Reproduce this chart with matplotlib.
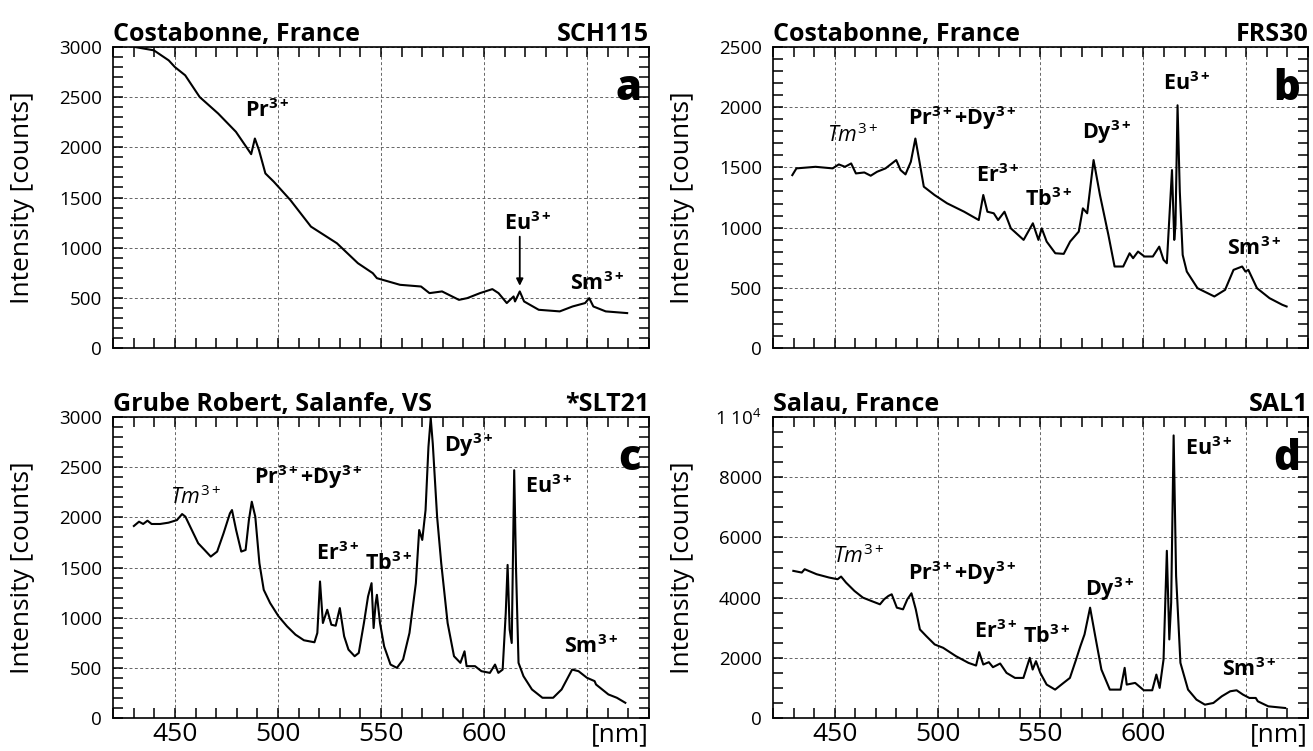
import matplotlib
matplotlib.use("Agg")
import matplotlib.pyplot as plt
import matplotlib.ticker as ticker

plt.rcParams["font.family"] = ["Open Sans", "DejaVu Sans"]
plt.rcParams["mathtext.fontset"] = "custom"
plt.rcParams["mathtext.rm"] = "Open Sans"
plt.rcParams["mathtext.bf"] = "Open Sans:bold"
plt.rcParams["mathtext.it"] = "Open Sans:italic"

# spectra (wavelength nm, intensity counts)
wl_a = [430.6, 439.8, 447, 450, 455, 462, 471, 479.6, 485.7, 487, 488.8, 490.8,
        493.9, 498, 506, 516, 528.6, 538.8, 546, 548, 559.2, 569.4, 573.5, 579.6,
        587.8, 591.8, 598, 604, 607, 611, 614.3, 615, 617.3, 619.4, 626.5, 636.7,
        642.9, 649, 651, 653, 659, 669.4]
int_a = [3000, 2967, 2867, 2800, 2718, 2502, 2337, 2155, 1972, 1932, 2088, 1972,
         1740, 1657, 1475, 1210, 1044, 845, 746, 696, 630, 613, 547, 564,
         480, 497, 547, 587, 547, 448, 514, 464, 564, 464, 381, 365,
         414, 448, 497, 414, 365, 348]

wl_b = [429.4, 431.4, 440.7, 449, 452, 455, 458, 460.3, 464.4, 467.5, 470.6, 474.7,
        479.9, 482, 484.4, 487, 489.2, 491.2, 493.3, 498.5, 504.6, 512.9, 520, 522.2,
        524.2, 527.3, 529.4, 532.5, 535.6, 541.8, 546.3, 549, 550.6, 553, 557.2, 561.3,
        564.4, 568.6, 570.6, 572.7, 575.8, 578.9, 583, 586, 590.2, 593.3, 595, 597.4,
        600.5, 604.6, 607.7, 609.8, 611.4, 613.9, 615, 615.6, 616.6, 617.7, 619.1, 621.1,
        626.3, 634.5, 639.7, 643.8, 648, 649.6, 651, 655.2, 661.3, 667.5, 669.6]
int_b = [1436, 1492, 1505, 1492, 1525, 1505, 1533, 1450, 1458, 1431, 1464, 1492,
         1561, 1478, 1442, 1547, 1740, 1547, 1340, 1271, 1202, 1132, 1063, 1271,
         1132, 1119, 1063, 1132, 994, 898, 1036, 898, 994, 884, 787, 782,
         884, 967, 1160, 1119, 1561, 1271, 939, 677, 677, 787, 746, 801,
         760, 760, 842, 732, 704, 1478, 898, 1022, 2016, 1298, 773, 635,
         497, 428, 483, 649, 677, 635, 649, 497, 414, 359, 345]

wl_c = [430.1, 432.6, 434.6, 436.7, 438.7, 442.8, 446.9, 451, 453.5, 455.1, 458.2, 461.3,
        464.4, 467.4, 470.5, 473.6, 476.7, 477.7, 479.7, 482.2, 484.3, 485.9, 487.3, 489,
        491, 493.1, 496.2, 500.3, 504.4, 508.5, 512.6, 517.7, 519.1, 520.4, 521.8, 523.9,
        525.9, 528, 530, 532.1, 534.2, 537.2, 539.2, 541.7, 543.7, 545.4, 546.4, 547.4,
        548, 549.5, 551.5, 554.6, 557.7, 560.7, 563.8, 566.9, 568.5, 570, 571.6, 573,
        574.1, 575.1, 577.2, 579.2, 582.3, 585.4, 588.5, 590.5, 591.5, 595.6, 598.7, 602.8,
        605.3, 606.9, 609, 610.5, 611.4, 612.4, 613.4, 614.6, 615.5, 616.7, 619.1, 623.2,
        628.3, 633.5, 637.6, 642.7, 645.8, 649.9, 653.6, 654.3, 660.3, 664.4, 668.5]
int_c = [1914, 1957, 1934, 1967, 1934, 1934, 1947, 1973, 2033, 2007, 1874, 1742,
         1675, 1609, 1659, 1841, 2040, 2073, 1874, 1659, 1675, 1973, 2156, 2007,
         1543, 1278, 1146, 1013, 914, 831, 775, 755, 848, 1361, 947, 1079,
         930, 920, 1096, 815, 682, 616, 649, 947, 1212, 1344, 897, 1146,
         1228, 947, 715, 533, 500, 583, 848, 1344, 1874, 1775, 2073, 2702,
         2990, 2735, 2007, 1543, 947, 616, 550, 665, 517, 517, 467, 450,
         533, 450, 483, 1046, 1526, 881, 748, 2470, 1477, 550, 417, 285,
         202, 202, 285, 483, 467, 401, 368, 334, 235, 202, 152]

wl_d = [429.9, 434, 435.4, 441.2, 447.3, 451.4, 453.1, 455.5, 459.6, 463.7, 467.8, 472,
        474, 476.1, 477.7, 480.2, 483.2, 485.3, 487.3, 489.4, 491.4, 494.5, 498.6, 502.7,
        508.9, 515, 518.7, 520.2, 522.2, 524.9, 526.9, 530.4, 533.5, 537.6, 541.7, 544.8,
        546.2, 547.8, 549.9, 553, 557.1, 561.2, 564.3, 567.3, 569.4, 571.4, 574.1, 576.6,
        579.6, 583.7, 588.9, 590.9, 591.9, 596, 600.2, 604.3, 606.3, 607.9, 609.8, 611.4,
        612.6, 613.5, 614.7, 615.9, 618, 621.7, 625.8, 629.9, 634, 638.1, 642.2, 645.3,
        648.4, 651.5, 654.6, 655.6, 660.7, 668.9]
int_d = [4889, 4833, 4944, 4778, 4667, 4611, 4700, 4500, 4222, 4000, 3889, 3778,
         3944, 4056, 4111, 3667, 3611, 3944, 4144, 3611, 2944, 2722, 2444, 2333,
         2056, 1833, 1744, 2189, 1778, 1856, 1689, 1811, 1500, 1333, 1333, 2000,
         1611, 1889, 1500, 1111, 944, 1167, 1333, 1944, 2389, 2778, 3667, 2722,
         1611, 944, 944, 1667, 1111, 1167, 922, 922, 1444, 1000, 1944, 5556,
         2611, 3833, 9389, 4722, 1833, 944, 611, 444, 500, 722, 889, 922,
         778, 667, 667, 556, 389, 333]

titles = ["Costabonne, France", "Costabonne, France",
          "Grube Robert, Salanfe, VS", "Salau, France"]
samples = ["SCH115", "FRS30", "*SLT21", "SAL1"]
letters = ["a", "b", "c", "d"]
ymax = [3000, 2500, 3000, 10000]
ymajor = [500, 500, 500, 2000]
yminor = [100, 100, 100, 500]

TM = r"$\mathit{Tm}^{\mathrm{3+}}$"
PR = r"Pr$^{\mathbf{3+}}$"
PRDY = r"Pr$^{\mathbf{3+}}$+Dy$^{\mathbf{3+}}$"
ER = r"Er$^{\mathbf{3+}}$"
TB = r"Tb$^{\mathbf{3+}}$"
DY = r"Dy$^{\mathbf{3+}}$"
EU = r"Eu$^{\mathbf{3+}}$"
SM = r"Sm$^{\mathbf{3+}}$"

# peak labels (text, nm, counts)
labels_a = [(PR, 495, 2370), (EU, 621, 1243), (SM, 655, 646)]
labels_b = [(TM, 459, 1768), (PRDY, 512, 1906), (ER, 529, 1436), (TB, 554, 1229),
            (DY, 582, 1795), (EU, 621, 2196), (SM, 654, 829)]
labels_c = [(TM, 460, 2205), (PRDY, 514.6, 2404), (ER, 529, 1642), (TB, 553.6, 1543),
            (DY, 592.5, 2718), (EU, 631.5, 2305), (SM, 652, 715)]
labels_d = [(TM, 461.7, 5389), (PRDY, 512, 4833), (ER, 528.4, 2889), (TB, 553, 2722),
            (DY, 583.7, 4278), (EU, 632, 8944), (SM, 651.4, 1611)]

data = [(wl_a, int_a, labels_a), (wl_b, int_b, labels_b),
        (wl_c, int_c, labels_c), (wl_d, int_d, labels_d)]

fig = plt.figure(figsize=(13.13, 7.51), dpi=100)
positions = [[0.0861, 0.5366, 0.4082, 0.4008], [0.5887, 0.5366, 0.4075, 0.4008],
             [0.0861, 0.0439, 0.4082, 0.4008], [0.5887, 0.0439, 0.4075, 0.4008]]

for i, (wl, inten, labs) in enumerate(data):
    ax = fig.add_axes(positions[i])
    ax.plot(wl, inten, color="black", lw=1.5)
    ax.set_xlim(420, 680)
    ax.set_ylim(0, ymax[i])
    ax.xaxis.set_major_locator(ticker.MultipleLocator(50))
    ax.xaxis.set_minor_locator(ticker.MultipleLocator(10))
    ax.yaxis.set_major_locator(ticker.MultipleLocator(ymajor[i]))
    ax.yaxis.set_minor_locator(ticker.MultipleLocator(yminor[i]))
    ax.tick_params(which="both", direction="in", top=True, right=True,
                   length=7, width=1.1)
    ax.tick_params(axis="y", labelsize=13.5, pad=8)
    ax.grid(True, which="major", color="0.4", linestyle=(0, (3, 2.5)), lw=0.7)
    for s in ax.spines.values():
        s.set_linewidth(1.2)
    if i == 3:
        ax.yaxis.set_major_formatter(ticker.FuncFormatter(
            lambda v, _: r"1 10$^4$" if v == 10000 else f"{int(v)}"))
    if i < 2:
        ax.tick_params(axis="x", labelbottom=False)
    else:
        ax.xaxis.set_major_formatter(ticker.FuncFormatter(
            lambda v, _: "" if v > 620 else f"{int(v)}"))
        ax.tick_params(axis="x", labelsize=19, pad=3)
        ax.text(1.0, -0.015, "[nm]", transform=ax.transAxes, ha="right",
                va="top", fontsize=19)
    ax.set_ylabel("Intensity [counts]", fontsize=19)
    ax.yaxis.set_label_coords(-0.145, 0.5)
    ax.set_title(titles[i], loc="left", fontsize=18, fontweight="bold", pad=4)
    ax.set_title(samples[i], loc="right", fontsize=18, fontweight="bold", pad=4)
    ax.text(0.985, 0.86, letters[i], transform=ax.transAxes, ha="right",
            va="center", fontsize=30, fontweight="black")
    for txt, x, y in labs:
        ax.text(x, y, txt, ha="center", va="center", fontsize=15.5,
                fontweight="bold")
    if i == 0:
        # vertical arrow pointing at the Eu line
        ax.annotate("", xy=(617.3, 620), xytext=(617.3, 1110),
                    arrowprops=dict(arrowstyle="-|>", color="black", lw=1.3,
                                    shrinkA=0, shrinkB=0))

fig.savefig("out.png", dpi=100)
